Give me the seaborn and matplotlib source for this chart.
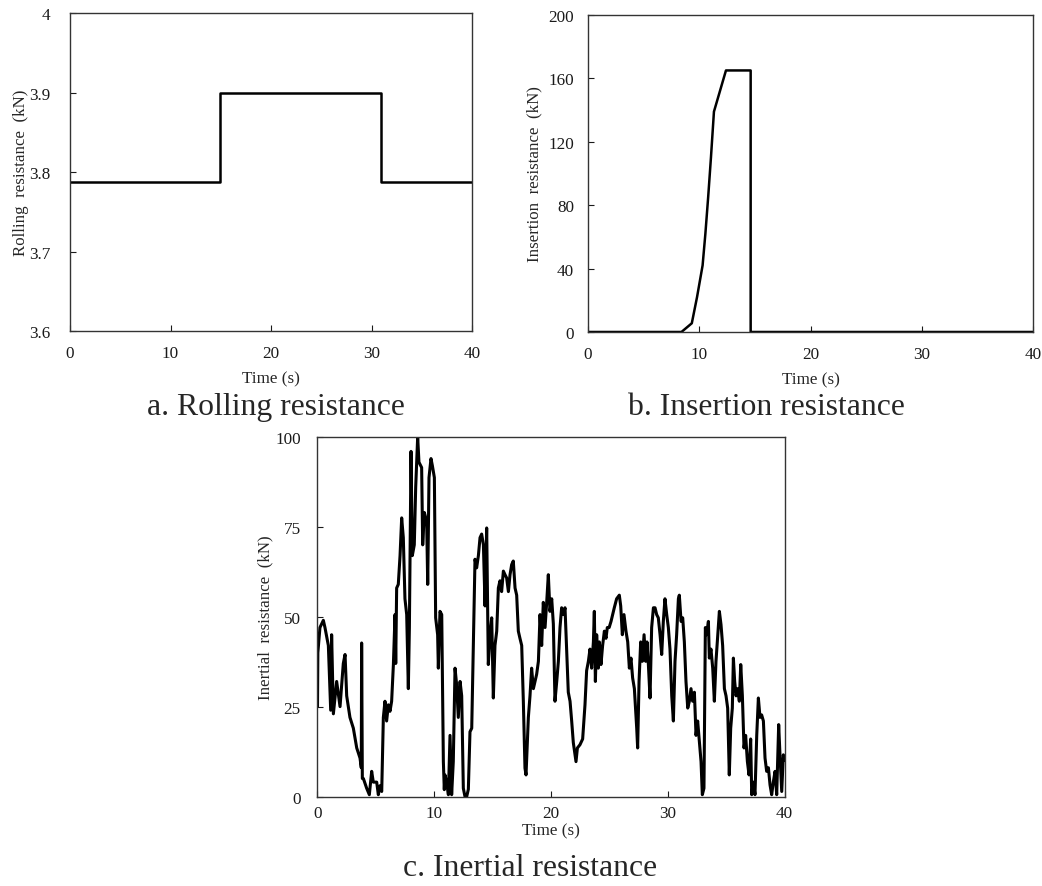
import pandas as pd
import seaborn as sns
import matplotlib.pyplot as plt

# a. rolling resistance (step curve)
rolling_t = [0, 14.9, 30.9, 40]
rolling_v = [3.787, 3.9, 3.787, 3.787]

# b. insertion resistance
insertion_t = [0, 8.4, 9.33, 9.8, 10.3, 10.55, 10.8, 11.05, 11.32, 12.4, 14.62, 14.62, 40]
insertion_v = [0, 0, 5.5, 22, 42, 62, 85, 110, 139, 165, 165, 0, 0]

# c. inertial resistance
inertial_t = [0.00, 0.03, 0.21, 0.50, 0.64, 0.93, 1.13, 1.21, 1.36, 1.64, 1.93, 2.21, 2.36, 2.50,
              2.78, 3.07, 3.36, 3.64, 3.75, 3.78, 3.84, 3.93, 4.21, 4.44, 4.64, 4.78,
              5.07, 5.21, 5.35, 5.50, 5.64, 5.78, 5.92, 6.07, 6.21, 6.35, 6.50, 6.64, 6.70, 6.78,
              6.92, 7.07, 7.21, 7.35, 7.49, 7.64, 7.78, 7.87, 8.01, 8.12, 8.29, 8.41, 8.58, 8.69,
              8.92, 9.01, 9.15, 9.35, 9.44, 9.55, 9.72, 9.84, 10.01, 10.12, 10.29, 10.35, 10.49,
              10.64, 10.78, 10.86,
              10.92, 11.06, 11.21, 11.35, 11.49, 11.63, 11.78, 11.92, 12.06, 12.21, 12.35, 12.49,
              12.63, 12.78, 12.92, 13.06, 13.21, 13.35, 13.49, 13.63, 13.78, 13.92, 14.06, 14.21,
              14.35, 14.49, 14.63, 14.78, 14.92, 15.06, 15.20, 15.35, 15.49, 15.63, 15.77, 15.92,
              16.06,
              16.20, 16.35, 16.49, 16.63, 16.77, 16.92, 17.06, 17.20, 17.34, 17.49, 17.63, 17.77,
              17.86, 18.06, 18.20, 18.34, 18.49, 18.63, 18.77, 18.92, 19.06, 19.20, 19.34, 19.49,
              19.63, 19.77, 19.91, 20.06, 20.20, 20.34, 20.49, 20.63, 20.77, 20.91, 21.06, 21.20,
              21.34, 21.48, 21.63, 21.77,
              21.91, 22.06, 22.14, 22.26, 22.48, 22.71, 22.91, 23.05, 23.20, 23.34, 23.48, 23.63,
              23.71, 23.80, 23.91, 24.05, 24.14, 24.28, 24.42, 24.57, 24.71, 24.82, 24.98, 25.14,
              25.28, 25.42, 25.62, 25.85, 25.97, 26.11, 26.25, 26.42, 26.57, 26.71, 26.85, 26.99,
              27.14,
              27.34, 27.42, 27.54, 27.68, 27.82, 27.97, 28.11, 28.22, 28.34, 28.48, 28.62, 28.77,
              28.91, 29.05, 29.19, 29.34, 29.48, 29.62, 29.76, 29.91, 30.05, 30.19, 30.34, 30.48,
              30.62, 30.76, 30.91, 30.99, 31.14, 31.28, 31.42, 31.56, 31.71, 31.85, 31.99, 32.13,
              32.28, 32.42, 32.56, 32.71, 32.85, 32.96,
              33.10, 33.22, 33.33, 33.48, 33.56, 33.70, 33.85, 33.99, 34.13, 34.28, 34.42, 34.56,
              34.70, 34.85, 34.99, 35.13, 35.27, 35.39, 35.53, 35.62, 35.73, 35.85, 35.99, 36.13,
              36.25, 36.39, 36.53, 36.67, 36.82, 36.96, 37.10, 37.19, 37.33, 37.47, 37.62, 37.76,
              37.90, 38.04, 38.19, 38.33, 38.47, 38.62, 38.76, 38.90, 39.04, 39.19, 39.33, 39.50,
              39.61, 39.76, 39.90, 39.98]
inertial_v = [25, 40, 47, 49, 47, 42, 24, 45, 23, 32, 25, 37, 39.5, 28,
              22, 19, 13.5, 10.7, 8, 42.7, 5, 5, 2.3, 0.5, 7, 4,
              4, 0.5, 3, 1.4, 22, 26.5, 21, 25.5, 23.7, 26.5, 36.7, 50.6, 37, 58,
              59, 67, 77.5, 72, 55, 50.6, 30, 47, 96, 67, 70, 86, 100, 93,
              91.5, 70, 79, 76.6, 59, 88.7, 94, 92, 88.7, 49.7, 45, 35.7, 51.5,
              50.6, 9.7, 1.9,
              6, 4, 0.5, 17, 0.5, 9.7, 35.7, 31, 22, 32, 28, 2.3,
              0, 0, 2, 18, 19, 42, 66, 63.6, 67, 72, 73, 70,
              53, 74.7, 36.7, 45, 49.7, 27.4, 42, 46, 58, 60, 57, 62.7,
              61.7,
              60.8, 57, 61.7, 64.5, 65.5, 58, 56, 46, 44, 42, 26.5, 7.9,
              6, 22, 28, 35.7, 30, 32, 34, 37.6, 50.6, 42, 54, 47,
              54, 61.7, 51.5, 55, 48, 26.5, 32, 37.6, 47, 52.5, 50.6, 52.5,
              41, 29, 26.5, 21,
              15, 11.6, 9.7, 13.5, 14.4, 16, 25.5, 35, 37.6, 41, 35.7, 43,
              51.5, 32, 45, 35.7, 43, 36.7, 42, 46, 44, 47, 47, 48.7,
              50.6, 52.5, 55, 56, 53, 45, 50.6, 46, 43, 35.7, 38.5, 33,
              30,
              19, 13.5, 32, 43, 37.6, 45, 37.6, 43, 36.7, 27.4, 47, 52.5,
              52.5, 50.6, 49.7, 45, 39.5, 48.7, 55, 50.6, 47, 41, 28, 21,
              37.6, 45, 55, 56, 48.7, 49.7, 43, 32, 24.6, 26.5, 30, 26.5,
              29, 17, 21, 15, 9.7, 0.5,
              2.3, 47, 45, 48.7, 38.5, 41, 35.7, 26.5, 37.6, 45, 51.5, 47.8,
              42, 30, 28, 24.6, 6, 19, 24.6, 38.5, 32, 28, 30, 26.5,
              36.7, 28, 13.5, 17, 9.7, 6, 16, 0.5, 4, 0.5, 17, 27.4,
              22, 22.7, 21, 10.7, 7, 8, 3.2, 0.5, 4, 7, 0.5, 20,
              11.6, 1.4, 11.6, 10]

sns.set_style("ticks")
plt.rcParams['font.family'] = ['Liberation Serif', 'DejaVu Serif']
plt.rcParams['xtick.direction'] = 'in'
plt.rcParams['ytick.direction'] = 'in'

fig = plt.figure(figsize=(10.42, 8.87), dpi=100)
ax_a = fig.add_axes([0.0672, 0.6257, 0.3858, 0.3585])
ax_b = fig.add_axes([0.5643, 0.6246, 0.4271, 0.3574])
ax_c = fig.add_axes([0.3047, 0.1009, 0.4482, 0.4053])

df_a = pd.DataFrame({'t': rolling_t, 'v': rolling_v})
df_b = pd.DataFrame({'t': insertion_t, 'v': insertion_v})
df_c = pd.DataFrame({'t': inertial_t, 'v': inertial_v})

sns.lineplot(data=df_a, x='t', y='v', ax=ax_a, color='black', linewidth=1.8,
             drawstyle='steps-post', estimator=None, sort=False)
sns.lineplot(data=df_b, x='t', y='v', ax=ax_b, color='black', linewidth=1.8,
             estimator=None, sort=False)
sns.lineplot(data=df_c, x='t', y='v', ax=ax_c, color='black', linewidth=2.2,
             estimator=None, sort=False)

setups = [
    (ax_a, (3.6, 4.0), [3.6, 3.7, 3.8, 3.9, 4.0], ['3.6', '3.7', '3.8', '3.9', '4'],
     'Rolling  resistance  (kN)', 14, 10, 7, 0),
    (ax_b, (0, 200), [0, 40, 80, 120, 160, 200], None,
     'Insertion  resistance  (kN)', 10, 10, 7, 4),
    (ax_c, (0, 100), [0, 25, 50, 75, 100], None,
     'Inertial  resistance  (kN)', 12, 6, 1, 1),
]
for ax, ylim, yt, ytl, ylab, ypad, xpad, xlpad, ylpad in setups:
    ax.set_xlim(0, 40)
    ax.set_ylim(*ylim)
    ax.set_xticks([0, 10, 20, 30, 40])
    ax.set_yticks(yt)
    if ytl:
        ax.set_yticklabels(ytl)
    ax.set_xlabel('Time (s)', fontsize=12.3, labelpad=xlpad)
    ax.set_ylabel(ylab, fontsize=12.2, labelpad=ylpad)
    ax.tick_params(labelsize=12.3, length=4, width=0.8, colors='#1a1a1a')
    ax.tick_params(axis='y', pad=ypad)
    ax.tick_params(axis='x', pad=xpad)
    for s in ax.spines.values():
        s.set_color('#333333')
        s.set_linewidth(1.0)

fig.text(276 / 1042, 1 - 408 / 887, 'a. Rolling resistance', ha='center', va='center', fontsize=22.8)
fig.text(766 / 1042, 1 - 408 / 887, 'b. Insertion resistance', ha='center', va='center', fontsize=22.8)
fig.text(530 / 1042, 1 - 869 / 887, 'c. Inertial resistance', ha='center', va='center', fontsize=22.8)

fig.savefig('out.png', dpi=100)
